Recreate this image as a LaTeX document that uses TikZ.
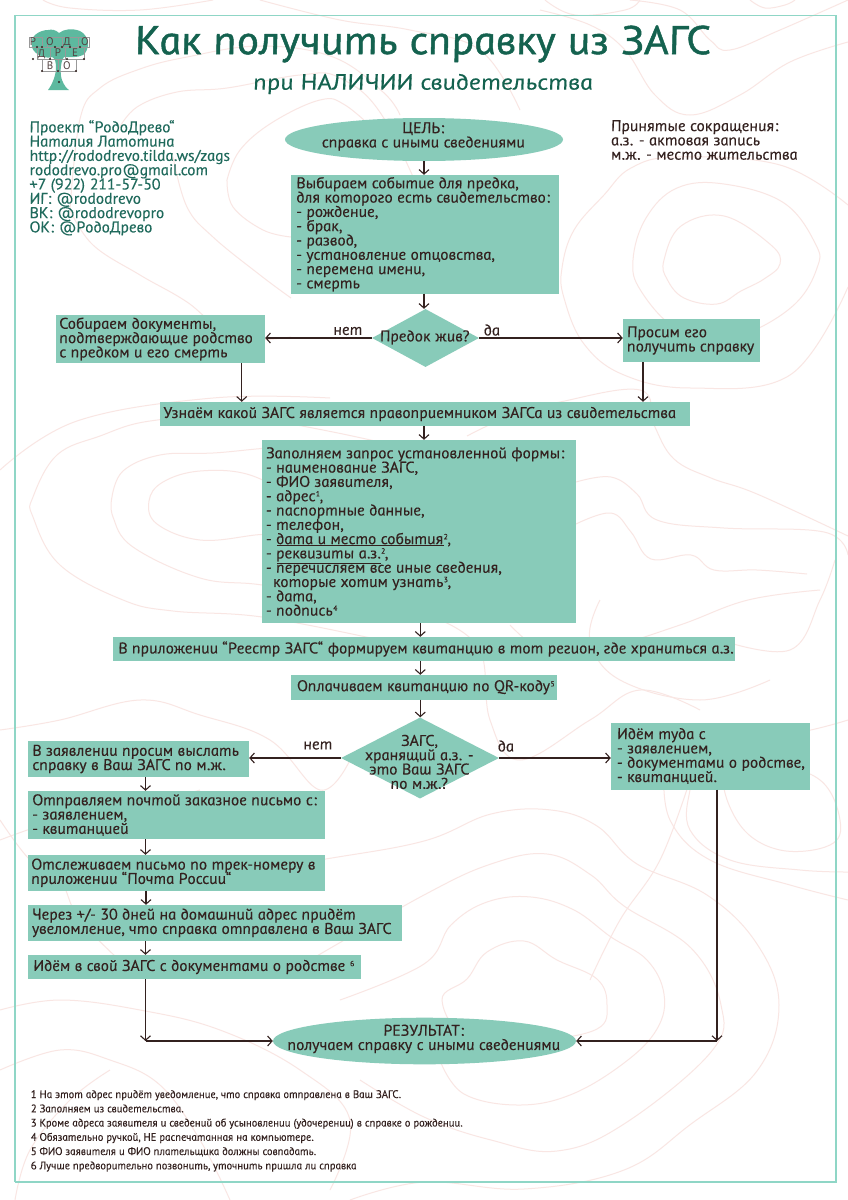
\documentclass[tikz,border=0pt]{standalone}
\usepackage{fontspec}
\usetikzlibrary{arrows.meta,shapes.geometric}
\setmainfont{PT Sans Italic}[FakeSlant=-0.21,FakeStretch=1.07,FakeBold=0.3]
\newfontfamily\titlef{PT Sans Italic}[FakeSlant=-0.21,FakeStretch=1.115,FakeBold=1.2]
\newfontfamily\subf{PT Sans Italic}[FakeSlant=-0.21,FakeStretch=1.19,FakeBold=0.4]
\newfontfamily\notef{PT Sans Italic}[FakeSlant=-0.21,FakeStretch=1.02,FakeBold=0.15]
\newfontfamily\logof{PT Sans}
\lineskiplimit=-100pt
\definecolor{boxc}{HTML}{88CBB9}
\definecolor{inkc}{HTML}{33211F}
\definecolor{headc}{HTML}{14624F}
\definecolor{contc}{HTML}{1F6A5C}
\definecolor{framec}{HTML}{8FD6C6}
\definecolor{bgc}{HTML}{F9E6E3}
\definecolor{treec}{HTML}{5DB99F}
\tikzset{
 flow/.style={fill=boxc,draw=none,rectangle,inner ysep=0pt,text=inkc,font=\fontsize{15.5}{14.3}\selectfont},
 term/.style={fill=boxc,draw=none,ellipse,inner sep=0pt,text=inkc,font=\fontsize{15.5}{14.3}\selectfont},
 dec/.style={fill=boxc,draw=none,diamond,inner sep=0pt,text=inkc,font=\fontsize{15.5}{14.3}\selectfont},
 arr/.style={draw=inkc,line width=1.1pt,-{Straight Barb[length=4.5pt,width=10pt,line width=1.1pt]}},
 lab/.style={text=inkc,inner sep=0pt,font=\fontsize{15.5}{14}\selectfont},
 bgline/.style={draw=bgc,line width=1pt},
 info/.style={inner sep=0pt,anchor=north west,align=left,font=\fontsize{15.5}{14.3}\selectfont},
 note/.style={inner sep=0pt,anchor=base west,text=inkc,font=\notef\fontsize{11}{12}\selectfont},
 logol/.style={inner sep=0pt,text=inkc!85,font=\logof\fontsize{11}{11}\selectfont},
 logod/.style={fill=inkc,circle,inner sep=0pt,minimum size=2.4pt},
 logor/.style={draw=black!40,line width=.3pt}
}
\newcommand\stack[1]{\vbox{\hsize=640pt\parindent=0pt\raggedright #1\par}}
\newcommand\flowbox[7]{%
 \pgfmathsetmacro\bw{#4-#2}\pgfmathsetmacro\bh{#5-#3}\pgfmathsetmacro\tw{#4-#2-2*#6}%
 \node[flow,inner xsep=#6pt,minimum width=\bw pt,minimum height=\bh pt] (#1) at ({(#2+#4)/2},{(#3+#5)/2}) {\makebox[\tw pt][l]{\stack{#7}}};}
\newcommand\ctrtext[2][0]{\makebox[0pt][c]{\raisebox{#1pt}[0pt][0pt]{$\vcenter{\hsize=640pt\parindent=0pt\centering #2\par}$}}}
\newcommand\bgc[1]{\draw[bgline] plot[smooth,tension=.65] coordinates {#1};}
\newcommand\bgcc[1]{\draw[bgline] plot[smooth cycle,tension=.65] coordinates {#1};}
\newcommand\sps[1]{\raisebox{4.8pt}[0pt][0pt]{\fontsize{7.5}{7.5}\selectfont #1}}
\newcommand\uln[1]{\smash{\underline{#1}}}
\begin{document}
\begin{tikzpicture}[x=1pt,y=-1pt]
\useasboundingbox (0,0) rectangle (848,1200);
\fill[white] (0,0) rectangle (848,1200);
% background contour lines
\bgcc{(664,260)(681,226)(724,216)(771,245)(780,264)(764,279)(741,291)(717,304)(684,298)(667,279)}
\bgcc{(633,260)(646,218)(677,188)(724,184)(784,203)(816,245)(817,268)(797,302)(757,329)(724,337)(677,329)(641,291)}
\bgc{(848,205)(780,165)(677,157)(631,168)(604,195)(574,230)(562,268)(564,298)(584,344)(624,375)(691,388)(790,375)(848,287)}
\bgc{(848,42)(790,62)(740,95)(690,115)(655,95)(625,50)(590,25)(540,10)}
\bgc{(848,0)(780,30)(730,50)(710,40)(680,10)(630,0)}
\bgc{(545,0)(575,15)(625,10)(640,0)}
\bgc{(750,0)(765,8)(785,5)(795,0)}
\bgcc{(442,1000)(467,979)(487,952)(524,941)(557,960)(597,979)(607,1005)(597,1029)(540,1040)(470,1040)}
\bgc{(340,1000)(424,964)(451,925)(487,902)(531,897)(574,910)(611,937)(647,960)(664,994)(657,1029)(624,1063)(570,1095)(517,1105)(464,1094)(441,1063)}
\bgc{(310,960)(424,895)(491,864)(547,854)(591,875)(624,906)(691,948)(721,1005)(711,1052)(624,1124)(557,1151)(491,1140)(424,1117)(360,1080)}
\bgc{(200,880)(320,860)(424,841)(491,814)(551,810)(597,826)(637,864)(707,895)(757,944)(779,1005)(757,1071)(691,1124)(624,1170)(524,1189)(424,1182)(350,1200)}
\bgcc{(149,501)(163,482)(200,471)(250,475)(290,500)(290,530)(255,535)(200,540)(157,524)}
\bgc{(112,497)(123,471)(160,455)(213,453)(300,448)(340,470)}
\bgc{(340,600)(262,585)(200,578)(133,547)(113,517)(112,497)}
\bgc{(500,470)(333,432)(233,417)(150,421)(100,436)(57,455)(33,497)(33,517)(60,565)(123,600)(173,611)(262,617)(380,640)}
\bgc{(43,0)(70,8)(140,10)(213,0)}
\bgc{(70,210)(80,119)(100,88)(140,69)(187,57)(260,46)(333,57)(383,92)(400,115)}
\bgc{(118,130)(137,107)(177,92)(227,88)(300,75)(340,78)(385,120)(440,240)}
\bgc{(260,0)(340,20)(410,30)(480,50)(520,110)}
\bgc{(227,180)(240,150)(273,122)(320,100)(345,105)(380,135)}
\bgc{(227,180)(233,207)(263,230)(291,237)}
\bgc{(173,157)(187,207)(213,237)(260,275)(291,298)}
\bgc{(70,210)(93,245)(140,275)(187,302)(233,337)(291,337)}
\bgc{(330,398)(213,398)(77,421)(0,470)}
\bgc{(467,436)(510,416)(560,402)(640,390)(654,425)(674,459)(711,478)(757,494)(848,536)}
\bgc{(576,482)(611,477)(637,494)(657,520)(724,528)(824,532)(848,555)}
\bgc{(576,524)(611,513)(631,532)(651,559)(691,555)(714,570)(757,570)(807,574)}
\bgc{(440,620)(480,650)(490,720)(520,760)(590,720)(640,690)(700,710)}
\bgc{(510,625)(550,655)(600,650)(680,625)(748,600)(820,590)}
\bgc{(0,730)(60,720)(140,700)(200,715)(270,740)(320,790)(350,760)}
\bgc{(0,840)(60,820)(110,815)(200,790)}
\bgc{(0,820)(30,860)(60,880)(80,920)(130,970)}
\bgc{(0,1010)(60,1000)(140,1010)(220,1030)(300,1070)(350,1120)(330,1190)}
\bgc{(0,1070)(60,1050)(110,1060)(160,1085)(200,1140)(230,1200)}
\bgc{(15,1200)(30,1150)(70,1100)(110,1070)}
\bgc{(690,780)(660,860)(620,920)(590,980)}
\bgc{(848,720)(780,735)(700,730)(650,745)}
\bgcc{(725,775)(770,765)(820,780)(840,820)(830,845)(780,850)(740,825)}
\bgc{(700,770)(690,790)(690,830)(730,860)(800,870)(848,872)}
\bgc{(664,770)(670,820)(710,860)(790,885)(848,900)}
\bgc{(720,640)(790,650)(820,600)(835,560)}
\bgc{(600,600)(590,640)(620,680)(700,700)(770,680)}
% frame
\draw[framec,line width=1.4pt] (15,15.5) -- (836,15.5);
\draw[framec,line width=1.4pt] (15,15) -- (15,1182);
\draw[framec,line width=2pt] (836,15) -- (836,1182) -- (15,1182);
% logo
\fill[treec] (52,57) .. controls (44,60) and (30,52) .. (32,44) .. controls (30,36) and (40,30) .. (48,30) .. controls (52,29) and (56,30) .. (59,33) .. controls (64,29) and (72,28) .. (80,31) .. controls (90,36) and (90,50) .. (83,55) .. controls (77,58) and (70,57) .. (64,57) .. controls (60,62) and (60,75) .. (62,80) .. controls (64,85) and (66,88) .. (69,90) -- (48,90) .. controls (52,85) and (56,75) .. (56,68) .. controls (56,62) and (55,58) .. (52,57) -- cycle;
\draw[logor] (29,37) rectangle (42,47) (47,37) rectangle (62,47) (62,37) rectangle (78,47) (78,37) rectangle (89,47) (37,47) rectangle (50,59) (50,47) rectangle (65,59) (65,47) rectangle (84,59) (42,59) rectangle (58,71) (58,71) rectangle (76,59);
\node[logol] (lr1) at (33,41.5) {Р};
\node[logol] (lo1) at (50,41.5) {О};
\node[logol] (ld1) at (67,42) {Д};
\node[logol] (lo2) at (85,41.5) {О};
\node[logol] (ld2) at (41.5,54) {Д};
\node[logol] (lr2) at (58,53) {Р};
\node[logol] (le) at (75,53) {Е};
\node[logol] (lv) at (50,66) {В};
\node[logol] (lo3) at (67,66) {О};
\foreach \p in {(37,47),(42,47),(55,47),(62,47),(70,47),(80,47),(33,59),(50,59),(67,59),(84,59),(42,71),(58,71),(76,71),(59,82)}{\node[logod] at \p {};}
% title
\node[inner sep=0pt,text=headc] (title) at (424.5,44) {\titlef\fontsize{40}{40}\selectfont Как получить справку из ЗАГС};
\node[inner sep=0pt,text=headc] (subtitle) at (424,84) {\subf\fontsize{22}{24}\selectfont при НАЛИЧИИ свидетельства};
\node[info,text=contc] (contacts) at (30,120) {Проект “РодоДрево“\\Наталия Латотина\\http://rododrevo.tilda.ws/zags\\rododrevo.pro@gmail.com\\+7 (922) 211-57-50\\ИГ: @rododrevo\\ВК: @rododrevopro\\ОК: @РодоДрево};
\node[info,text=inkc] (abbr) at (611.5,120) {Принятые сокращения:\\а.з. - актовая запись\\м.ж. - место жительства};
% flow
\node[term,minimum width=278pt,minimum height=43pt] (goal) at (424,139.5) {\ctrtext[-0.5]{ЦЕЛЬ:\\справка с иными сведениями}};
\flowbox{events}{291}{175}{559}{293.5}{6}{Выбираем событие для предка,\\для которого есть свидетельство:\\- рождение,\\- брак,\\- развод,\\- установление отцовства,\\- перемена имени,\\- смерть}
\node[dec,minimum width=107pt,minimum height=58pt,shape aspect=1.84] (alive) at (425.5,338) {\ctrtext[-3]{Предок жив?}};
\flowbox{docs}{56}{315}{265}{363}{4}{Собираем документы,\\подтверждающие родство\\с предком и его смерть}
\flowbox{ask}{623}{319}{760}{362}{4.7}{Просим его\\получить справку}
\flowbox{which}{160}{402}{690}{426}{4}{Узнаём какой ЗАГС является правоприемником ЗАГСа из свидетельства}
\flowbox{form}{262}{440}{576}{623}{4.7}{Заполняем запрос установленной формы:\\- наименование ЗАГС,\\- ФИО заявителя,\\- адрес\sps{1},\\- паспортные данные,\\- телефон,\\- \uln{дата и место события}\sps{2},\\- \uln{реквизиты а.з.}\sps{2},\\- перечисляем все иные сведения,\\\hspace*{7pt}которые хотим узнать\sps{3},\\- дата,\\- подпись\sps{4}}
\flowbox{reestr}{113}{637}{735}{661}{6}{В приложении “Реестр ЗАГС“ формируем квитанцию в тот регион, где храниться а.з.}
\flowbox{pay}{291}{675}{557}{699.5}{6.7}{Оплачиваем квитанцию по QR-коду\sps{5}}
\node[dec,minimum width=158pt,minimum height=81pt,shape aspect=1.95] (here) at (420,758) {\ctrtext[-7.5]{ЗАГС,\\хранящий а.з. -\\это Ваш ЗАГС\\по м.ж.?}};
\flowbox{go}{611}{722.5}{810}{789.5}{6.7}{Идём туда с\\- заявлением,\\- документами о родстве,\\- квитанцией.}
\flowbox{a}{28}{741}{249}{777}{5}{В заявлении просим выслать\\справку в Ваш ЗАГС по м.ж.}
\flowbox{b}{28}{791}{325}{839}{5}{Отправляем почтой заказное письмо с:\\- заявлением,\\- квитанцией}
\flowbox{c}{28}{855}{325}{890.5}{4}{Отслеживаем письмо по трек-номеру в\\приложении “Почта России“}
\flowbox{d}{28}{905}{402}{940.6}{4.7}{Через +/- 30 дней на домашний адрес придёт\\увеломление, что справка отправлена в Ваш ЗАГС}
\flowbox{e}{28}{955}{360.7}{979}{6}{Идём в свой ЗАГС с документами о родстве \sps{6}}
\node[term,minimum width=303pt,minimum height=46.6pt] (result) at (424.5,1041) {\ctrtext[-1.5]{РЕЗУЛЬТАТ:\\получаем справку с иными сведениями}};
% connectors
\draw[arr] (424,0 |- goal.south) -- (424,0 |- events.north);
\draw[arr] (424,0 |- events.south) -- (424,0 |- alive.north);
\draw[arr] (alive.west) -- (docs.east |- alive.west);
\draw[arr] (alive.east) -- (ask.west |- alive.east);
\draw[arr] (241.7,0 |- docs.south) -- (241.7,0 |- which.north);
\draw[arr] (643,0 |- ask.south) -- (643,0 |- which.north);
\draw[arr] (424,0 |- which.south) -- (424,0 |- form.north);
\draw[arr] (420.3,0 |- form.south) -- (420.3,0 |- reestr.north);
\draw[arr] (420.3,0 |- reestr.south) -- (420.3,0 |- pay.north);
\draw[arr] (420.3,0 |- pay.south) -- (420.3,0 |- here.north);
\draw[arr] (here.west) -- (a.east |- here.west);
\draw[arr] (here.east) -- (go.west |- here.east);
\draw[arr] (145.5,0 |- a.south) -- (145.5,0 |- b.north);
\draw[arr] (145.5,0 |- b.south) -- (145.5,0 |- c.north);
\draw[arr] (146,0 |- c.south) -- (146,0 |- d.north);
\draw[arr] (145.5,0 |- d.south) -- (145.5,0 |- e.north);
\coordinate (cornl) at (145.5,0 |- result.west);
\coordinate (cornr) at (717,0 |- result.east);
\draw[arr] (145.5,0 |- e.south) -- (cornl);
\draw[arr] (cornl) -- (result.west);
\draw[arr] (717,0 |- go.south) -- (cornr);
\draw[arr] (cornr) -- (result.east);
% labels
\node[lab] (no1) at (348.5,331) {нет};
\node[lab] (yes1) at (492.5,330) {да};
\node[lab] (no2) at (318.5,745.5) {нет};
\node[lab] (yes2) at (506.5,746) {да};
% footnotes
\node[note] (n1) at (31,1098) {1 На этот адрес придёт уведомление, что справка отправлена в Ваш ЗАГС.};
\node[note] (n2) at (31,1112.3) {2 Заполняем из свидетельства.};
\node[note] (n3) at (31,1126.5) {3 Кроме адреса заявителя и сведений об усыновлении (удочерении) в справке о рождении.};
\node[note] (n4) at (31,1140.8) {4 Обязательно ручкой, НЕ распечатанная на компьютере.};
\node[note] (n5) at (31,1155) {5 ФИО заявителя и ФИО плательщика должны совпадать.};
\node[note] (n6) at (31,1169.3) {6 Лучше предворительно позвонить, уточнить пришла ли справка};
\end{tikzpicture}
\end{document}
